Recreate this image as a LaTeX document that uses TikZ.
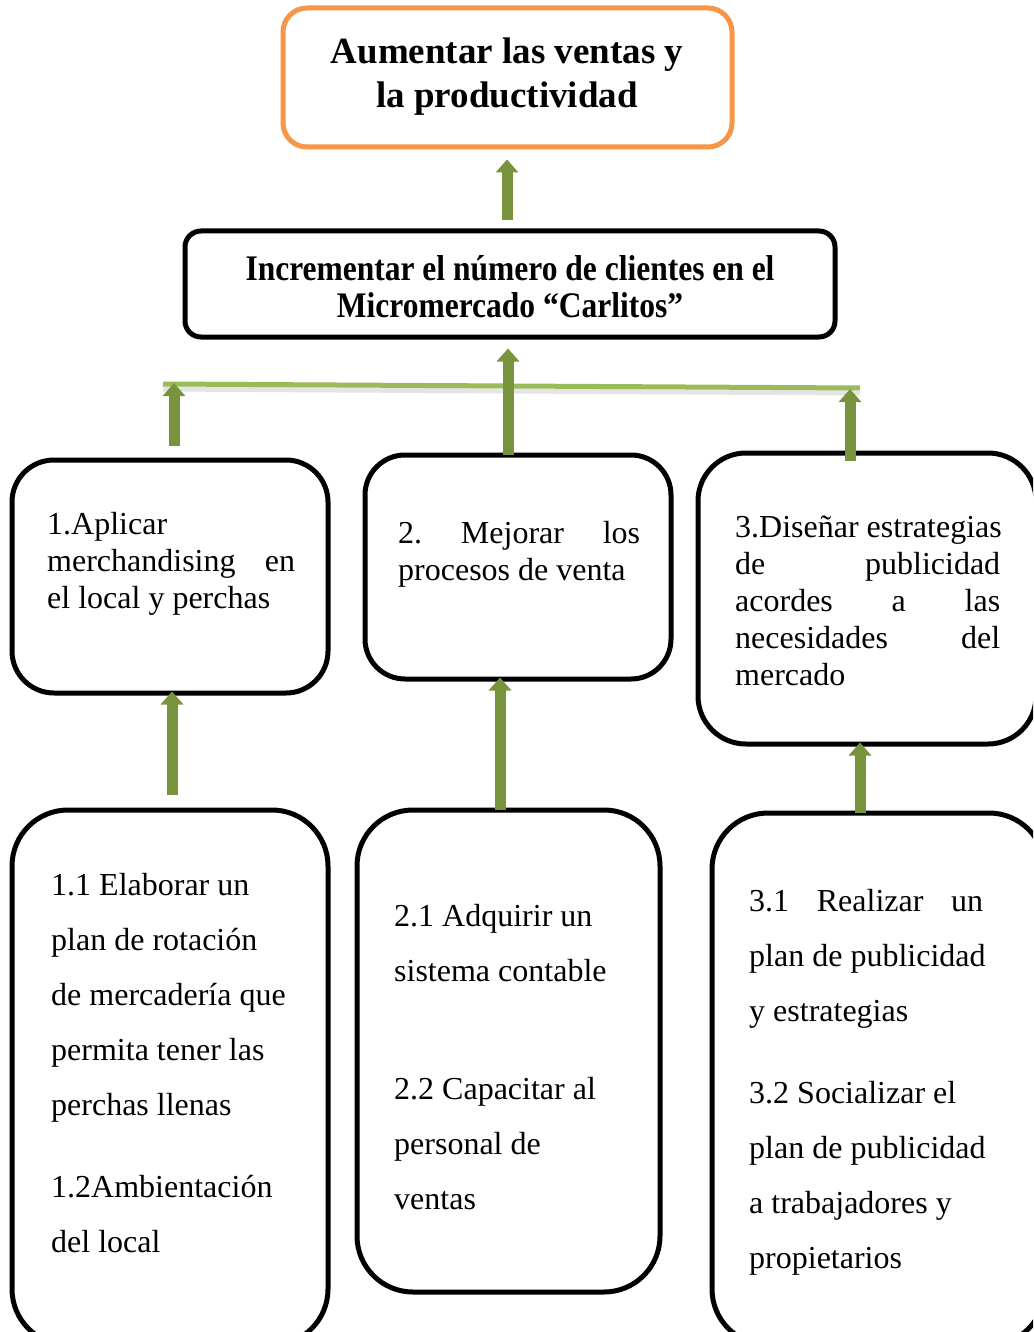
\documentclass[tikz,border=0pt]{standalone}
\usepackage{fontspec}
\setmainfont{Liberation Serif}
\usepackage{graphicx}
\usetikzlibrary{arrows.meta}
\definecolor{agreen}{HTML}{77933C}
\definecolor{lgreen}{HTML}{9BBB59}
\definecolor{borange}{HTML}{F79646}
\newcommand\fl{\rule{0pt}{24pt}}
\frenchspacing
\tikzset{
  rbox/.style={draw=black, line width=5pt, rounded corners=#1, inner sep=0pt},
  txt/.style={anchor=north west, inner sep=0pt, align=left, font=\fontsize{32}{37}\selectfont},
  txtl/.style={anchor=north west, inner sep=0pt, align=left, font=\fontsize{32}{55}\selectfont},
  garrow/.style={draw=agreen, line width=11pt, -{Triangle[width=22pt,length=13pt]}},
}
\begin{document}
\begin{tikzpicture}[x=1pt,y=-1pt]
\useasboundingbox (0,0) rectangle (1033,1332);
\clip (0,0) rectangle (1033,1332);
\fill[white] (0,0) rectangle (1033,1332);

% boxes
\node[rbox=24pt, draw=borange, minimum width=449pt, minimum height=139pt] (top) at (507.5,77.5) {};
\node[rbox=16pt, minimum width=650pt, minimum height=106pt] (mid) at (510,284) {};
\node[rbox=42pt, minimum width=316pt, minimum height=233pt] (b1) at (170,576.5) {};
\node[rbox=40pt, minimum width=306pt, minimum height=224pt] (b2) at (518,567) {};
\node[rbox=48pt, minimum width=338pt, minimum height=291pt] (b3) at (867,598.5) {};
\node[rbox=56pt, minimum width=316pt, minimum height=535pt] (c1) at (170,1077.5) {};
\node[rbox=56pt, minimum width=303pt, minimum height=482pt] (c2) at (508.5,1051) {};
\node[rbox=56pt, minimum width=333pt, minimum height=532pt] (c3) at (878.5,1079) {};

% texts
\node[anchor=north, inner sep=0pt, align=center, font=\bfseries\fontsize{37}{44}\selectfont] (ttop) at (507,36)
  {\rule{0pt}{27pt}Aumentar las ventas y\\la productividad};
\node[anchor=north, inner sep=0pt, align=center, font=\bfseries\fontsize{36}{37}\selectfont] (tmid) at (510,254)
  {\scalebox{0.875}[1]{\rule{0pt}{26pt}Incrementar el número de clientes en el}\\\scalebox{0.875}[1]{Micromercado “Carlitos”}};

\node[txt] (tb1) at (47,510) {\fl 1.Aplicar\\\makebox[248pt][s]{merchandising en}\\el local y perchas};
\node[txt] (tb2) at (398,519) {\fl\makebox[242pt][s]{2. Mejorar los}\\procesos de venta};
\node[txt] (tb3) at (735,513) {\fl 3.Diseñar estrategias\\\makebox[265pt][s]{de publicidad}\\\makebox[265pt][s]{acordes a las}\\\makebox[265pt][s]{necesidades del}\\mercado};

\node[txtl] (tc1a) at (51,871) {\fl 1.1 Elaborar un\\plan de rotación\\de mercadería que\\permita tener las\\perchas llenas};
\node[txtl] (tc1b) at (51,1173) {\fl 1.2Ambientación\\del local};
\node[txtl] (tc2a) at (394,902) {\fl 2.1 Adquirir un\\sistema contable};
\node[txtl] (tc2b) at (394,1075) {\fl 2.2 Capacitar al\\personal de\\ventas};
\node[txtl] (tc3a) at (749,887) {\fl\makebox[234pt][s]{3.1 Realizar un}\\plan de publicidad\\y estrategias};
\node[txtl] (tc3b) at (749,1079) {\fl 3.2 Socializar el\\plan de publicidad\\a trabajadores y\\propietarios};

% horizontal connector line
\coordinate (hl) at (163,384);
\coordinate (hr) at (860,388);
\coordinate (hls) at (163,389);
\coordinate (hrs) at (860,393);
\draw[black!30, opacity=0.35, line width=5pt] (hls) -- (hrs);
\draw[lgreen, line width=5pt] (hl) -- (hr);

% x references
\coordinate (x0) at (507,0);
\coordinate (x1) at (174,0);
\coordinate (x2) at (508,0);
\coordinate (x3) at (850,0);
\coordinate (x4) at (172,0);
\coordinate (x5) at (500,0);
\coordinate (x6) at (860,0);

% arrows
\draw[garrow, shorten <=8pt, shorten >=10pt] (x0 |- mid.north) -- (x0 |- top.south);
\draw[garrow, shorten <=-2pt, shorten >=9pt] (x2 |- b2.north) -- (x2 |- mid.south);
\draw[garrow, shorten <=12pt, shorten >=-1pt] (x1 |- b1.north) -- (x1 |- hl);
\draw[garrow, shorten <=-10pt, shorten >=1pt] (x3 |- b3.north) -- (x3 |- hr);
\draw[garrow, shorten <=13pt, shorten >=-4pt] (x4 |- c1.north) -- (x4 |- b1.south);
\draw[garrow, shorten <=-2pt, shorten >=-4pt] (x5 |- c2.north) -- (x5 |- b2.south);
\draw[garrow, shorten <=-2pt, shorten >=-4pt] (x6 |- c3.north) -- (x6 |- b3.south);
\end{tikzpicture}
\end{document}
